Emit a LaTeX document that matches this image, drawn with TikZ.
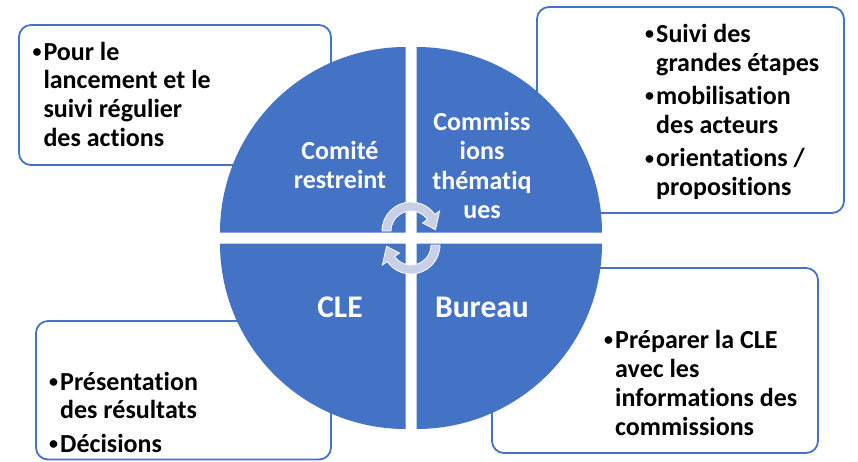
\documentclass[tikz,border=0pt]{standalone}
\usepackage{fontspec}
\setmainfont[Ligatures=NoCommon]{Carlito}
\usetikzlibrary{calc}
\definecolor{cblue}{RGB}{68,114,196}
\definecolor{arrowfill}{RGB}{200,208,232}
\newcommand{\bul}{\makebox[12pt][l]{\hspace*{1pt}\raisebox{2.6pt}{\fontsize{18}{18}\selectfont •}}}
\begin{document}
\begin{tikzpicture}[x=1pt,y=-1pt,
  infobox/.style={draw=cblue, line width=1.8pt, fill=white, rounded corners=12pt},
  quad/.style={fill=cblue},
  btext/.style={anchor=base west, inner sep=0pt, font=\bfseries\fontsize{26}{28.9}\selectfont},
  ctext/.style={anchor=base, inner sep=0pt, text=white, font=\bfseries\fontsize{26}{29.3}\selectfont},
  bigtext/.style={anchor=base, inner sep=0pt, text=white, font=\bfseries\fontsize{31.5}{36}\selectfont},
  cyc/.style={fill=arrowfill, draw=white, line width=0.8pt}]
\useasboundingbox (0,0) rectangle (858,461);
% boxes
\draw[infobox] (19,25) rectangle (331,165);
\draw[infobox] (537,7) rectangle (844,213);
\draw[infobox] (36,321) rectangle (331,459.5);
\draw[infobox] (492,268) rectangle (818,453);
% quadrants
\fill[quad] (405.5,232.5) -- ++(-185.5,0) arc[start angle=180, end angle=270, radius=185.5] -- cycle;
\fill[quad] (416.5,232.5) -- ++(0,-185.5) arc[start angle=270, end angle=360, radius=185.5] -- cycle;
\fill[quad] (416.5,243.5) -- ++(185.5,0) arc[start angle=0, end angle=90, radius=185.5] -- cycle;
\fill[quad] (405.5,243.5) -- ++(0,185.5) arc[start angle=90, end angle=180, radius=185.5] -- cycle;
% cycle arrows
\coordinate (ca) at (411,231);
\path[cyc] ($(ca)+(180:29)$) arc[start angle=180, end angle=325, radius=29]
  -- ($(ca)+(325:35)$) -- ($(ca)+(357:24.5)$) -- ($(ca)+(325:14)$) -- ($(ca)+(325:20)$)
  arc[start angle=325, end angle=180, radius=20] -- cycle;
\begin{scope}[rotate around={180:(411,238)}]
\coordinate (cb) at (411,231);
\path[cyc] ($(cb)+(180:29)$) arc[start angle=180, end angle=325, radius=29]
  -- ($(cb)+(325:35)$) -- ($(cb)+(357:24.5)$) -- ($(cb)+(325:14)$) -- ($(cb)+(325:20)$)
  arc[start angle=325, end angle=180, radius=20] -- cycle;
\end{scope}
% circle texts
\node[ctext] (cr) at (340,159.5) {\begin{tabular}[t]{@{}c@{}}Comité\\restreint\end{tabular}};
\node[ctext] (ct) at (482,130.5) {\begin{tabular}[t]{@{}c@{}}Commiss\\ions\\thématiq\\ues\end{tabular}};
\node[bigtext] (cle) at (340,317) {CLE};
\node[bigtext] (bur) at (482,317) {Bureau};
% box texts
\node[btext] (tl) at (31.3,60) {\begin{tabular}[t]{@{}l@{}l@{}}\bul&Pour le\\ &lancement et le\\ &suivi régulier\\ &des actions\end{tabular}};
\node[btext] (tr) at (644,42.3) {\begin{tabular}[t]{@{}l@{}l@{}}\bul&Suivi des\\ &grandes étapes\\[4.4pt] \bul&mobilisation\\ &des acteurs\\[4.4pt] \bul&orientations /\\ &propositions\end{tabular}};
\node[btext] (bl) at (48,390) {\begin{tabular}[t]{@{}l@{}l@{}}\bul&Présentation\\ &des résultats\\[4.4pt] \bul&Décisions\end{tabular}};
\node[btext] (br) at (603,348.3) {\begin{tabular}[t]{@{}l@{}l@{}}\bul&Préparer la CLE\\ &avec les\\ &informations des\\ &commissions\end{tabular}};
\end{tikzpicture}
\end{document}
